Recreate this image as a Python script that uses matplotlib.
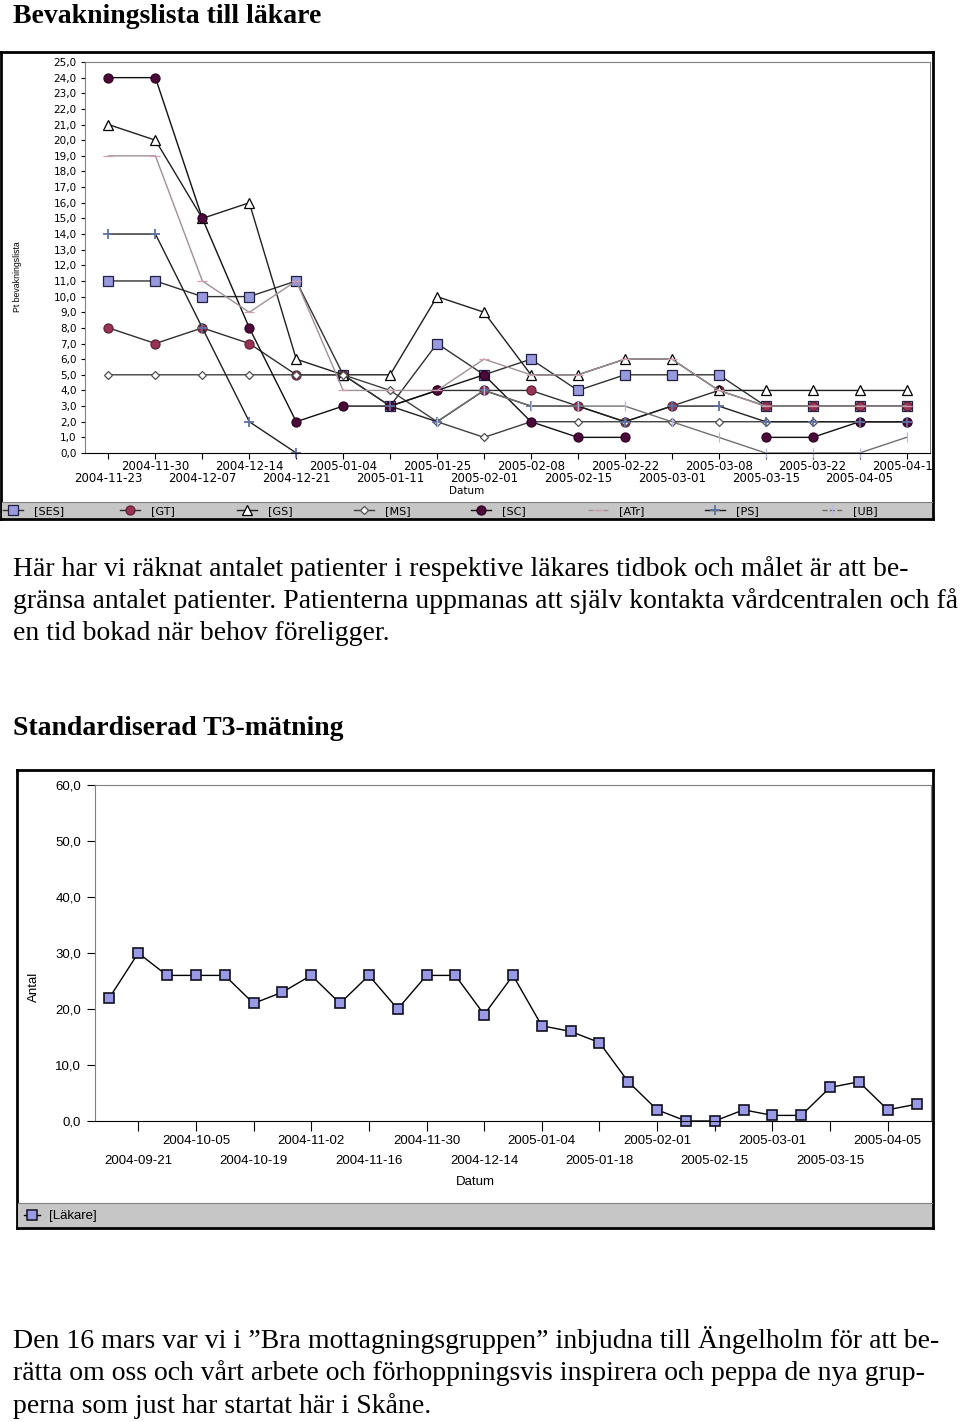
import numpy as np
import matplotlib
matplotlib.use('Agg')
import matplotlib.pyplot as plt

W, H = 960, 1422

# --- chart 1: Bevakningslista till läkare ---
dates1 = ['2004-11-23', '2004-11-30', '2004-12-07', '2004-12-14', '2004-12-21',
          '2005-01-04', '2005-01-11', '2005-01-25', '2005-02-01', '2005-02-08',
          '2005-02-15', '2005-02-22', '2005-03-01', '2005-03-08', '2005-03-15',
          '2005-03-22', '2005-04-05', '2005-04-12']
nan = np.nan
ses = [11, 11, 10, 10, 11, 5, 3, 7, 5, 6, 4, 5, 5, 5, 3, 3, 3, 3]
gt = [8, 7, 8, 7, 5, 5, 3, 4, 4, 4, 3, 2, 3, 4, 3, 3, 3, 3]
gs = [21, 20, 15, 16, 6, 5, 5, 10, 9, 5, 5, 6, 6, 4, 4, 4, 4, 4]
ms = [5, 5, 5, 5, 5, 5, 4, 2, 1, 2, 2, 2, 2, 2, 2, 2, 2, 2]
sc = [24, 24, 15, 8, 2, 3, 3, 4, 5, 2, 1, 1, nan, nan, 1, 1, 2, 2]
atr = [19, 19, 11, 9, 11, 4, 4, 4, 6, 5, 5, 6, 6, 4, 3, 3, 3, 3]
ps = [14, 14, 8, 2, 0, nan, 3, 2, 4, 3, 3, 2, 3, 3, 2, 2, 2, 2]
ub = [nan, nan, nan, nan, nan, nan, nan, 2, 4, 3, 3, 3, 2, 1, 0, 0, 0, 1]
names1 = ['[SES]', '[GT]', '[GS]', '[MS]', '[SC]', '[ATr]', '[PS]', '[UB]']

# --- chart 2: Standardiserad T3-mätning ---
dates2 = ['2004-09-14', '2004-09-21', '2004-09-28', '2004-10-05', '2004-10-12',
          '2004-10-19', '2004-10-26', '2004-11-02', '2004-11-09', '2004-11-16',
          '2004-11-23', '2004-11-30', '2004-12-07', '2004-12-14', '2004-12-21',
          '2005-01-04', '2005-01-11', '2005-01-18', '2005-01-25', '2005-02-01',
          '2005-02-08', '2005-02-15', '2005-02-22', '2005-03-01', '2005-03-08',
          '2005-03-15', '2005-03-22', '2005-04-05', '2005-04-12']
lakare = [22, 30, 26, 26, 26, 21, 23, 26, 21, 26, 20, 26, 26, 19, 26,
          17, 16, 14, 7, 2, 0, 0, 2, 1, 1, 6, 7, 2, 3]


def px(x0, y0, x1, y1):
    return [x0 / W, 1 - y1 / H, (x1 - x0) / W, (y1 - y0) / H]


fig = plt.figure(figsize=(W / 100, H / 100), dpi=100)
serif = 'Liberation Serif'
fs = 20

# page text
fig.text(13 / W, 1 - 23 / H, 'Bevakningslista till läkare', family=serif,
         weight='bold', fontsize=fs, va='baseline')
para1 = ['Här har vi räknat antalet patienter i respektive läkares tidbok och målet är att be-',
         'gränsa antalet patienter. Patienterna uppmanas att själv kontakta vårdcentralen och få',
         'en tid bokad när behov föreligger.']
for i, line in enumerate(para1):
    fig.text(13 / W, 1 - (576 + 32 * i) / H, line, family=serif, fontsize=fs, va='baseline')
fig.text(13 / W, 1 - 735 / H, 'Standardiserad T3-mätning', family=serif,
         weight='bold', fontsize=fs, va='baseline')
para2 = ['Den 16 mars var vi i \u201dBra mottagningsgruppen\u201d inbjudna till Ängelholm för att be-',
         'rätta om oss och vårt arbete och förhoppningsvis inspirera och peppa de nya grup-',
         'perna som just har startat här i Skåne.']
for i, line in enumerate(para2):
    fig.text(13 / W, 1 - (1348 + 32.5 * i) / H, line, family=serif, fontsize=fs, va='baseline')


def frame(box, strip):
    fr = fig.add_axes(px(*box))
    fr.set_xticks([]); fr.set_yticks([])
    for s in fr.spines.values():
        s.set_linewidth(2); s.set_color('black')
    lg = fig.add_axes(px(*strip))
    lg.set_facecolor('#c6c6c6')
    lg.set_xticks([]); lg.set_yticks([])
    for s in lg.spines.values():
        s.set_visible(False)
    lg.spines['top'].set_visible(True); lg.spines['top'].set_color('#808080')
    lg.set_xlim(strip[0], strip[2]); lg.set_ylim(0, 1)
    return fr, lg


# ---------------- chart 1 ----------------
fr1, lg1 = frame((1, 52, 933, 519), (2, 502, 932, 518))
ax1 = fig.add_axes(px(85, 62, 930, 453))
x1 = np.arange(len(dates1))

styles = [
    dict(marker='s', mfc='#9999dd', mec='#202040', color='#303030', ls='-'),
    dict(marker='o', mfc='#993355', mec='#602030', color='#303030', ls='-'),
    dict(marker='^', mfc='white', mec='black', color='#202020', ls='-'),
    dict(marker='D', mfc='white', mec='#505050', color='#404040', ls='-', ms=4.5),
    dict(marker='o', mfc='#4a0a3a', mec='#300020', color='#101010', ls='-'),
    dict(marker='_', mfc='#d0a0b0', mec='#d0a0b0', color='#a09098', ls='-'),
    dict(marker='+', mfc='#6070a0', mec='#6070a0', color='#202020', ls='-', mew=1.3),
    dict(marker='|', mfc='#b8b8e0', mec='#b8b8e0', color='#707070', ls='-'),
]
series1 = [ses, gt, gs, ms, sc, atr, ps, ub]
for vals, st in zip(series1, styles):
    st = dict(st)
    msz = st.pop('ms', 6.5)
    mew = st.pop('mew', 0.9)
    ax1.plot(x1, vals, lw=1.0, ms=msz, mew=mew, clip_on=False, **st)

ax1.set_xlim(-0.5, 17.5)
ax1.set_ylim(0, 25)
ax1.set_yticks(np.arange(0, 26))
ax1.set_yticklabels([f'{v},0' for v in range(26)], family='DejaVu Sans', fontsize=7.5)
ax1.set_xticks(x1[1::2])
ax1.set_xticklabels(dates1[1::2], family='DejaVu Sans', fontsize=8.5)
ax1.set_xticks(x1[0::2], minor=True)
ax1.set_xticklabels(dates1[0::2], minor=True, family='DejaVu Sans', fontsize=8.5)
ax1.tick_params(axis='y', length=3, pad=3, width=0.8)
ax1.tick_params(axis='x', which='both', length=4, width=0.8)
ax1.tick_params(axis='x', which='major', pad=1.0)
ax1.tick_params(axis='x', which='minor', pad=9.5)
for name in ['left', 'top', 'right']:
    ax1.spines[name].set_color('#808080')
ax1.spines['bottom'].set_color('black')
ax1.set_xlabel('Datum', family='DejaVu Sans', fontsize=7.5)
ax1.xaxis.set_label_coords(0.452, -0.085)
ax1.set_ylabel('Pt bevakningslista', family='Liberation Sans', fontsize=6.3)
ax1.yaxis.set_label_coords(-0.074, 0.45)

# legend strip 1
for k, (name, st) in enumerate(zip(names1, styles)):
    st = dict(st)
    msz = st.pop('ms', 6.5)
    mew = st.pop('mew', 0.9)
    cx = 13 + 117 * k
    dashed = name in ('[ATr]', '[UB]')
    lg1.plot([cx - 10, cx + 10], [0.5, 0.5], lw=1.0, color=st['color'],
             ls='--' if dashed else '-')
    lg1.plot([cx], [0.5], ls='none', marker=st['marker'], mfc=st['mfc'],
             mec=st['mec'], ms=msz, mew=mew)
    lg1.text(cx + 21, 0.45, name, family='DejaVu Sans', fontsize=8, va='center')

# ---------------- chart 2 ----------------
fr2, lg2 = frame((17, 770, 933, 1228), (18, 1203, 932, 1227))
ax2 = fig.add_axes(px(95, 785, 931, 1121))
x2 = np.arange(len(dates2))
ax2.plot(x2, lakare, color='black', lw=1.0, marker='s', ms=7, mfc='#9999e6',
         mec='#101020', mew=1.2, clip_on=False)
ax2.set_xlim(-0.5, 28.5)
ax2.set_ylim(0, 60)
ax2.set_yticks(np.arange(0, 61, 10))
ax2.set_yticklabels([f'{v},0' for v in range(0, 61, 10)], family='Liberation Sans', fontsize=9.5)
odd = x2[1::2]
ax2.set_xticks(odd[1::2])
ax2.set_xticklabels([dates2[i] for i in odd[1::2]], family='Liberation Sans', fontsize=9.5)
ax2.set_xticks(odd[0::2], minor=True)
ax2.set_xticklabels([dates2[i] for i in odd[0::2]], minor=True, family='Liberation Sans', fontsize=9.5)
ax2.tick_params(axis='y', length=6, pad=4, width=0.8)
ax2.tick_params(axis='x', which='both', length=7, width=0.8)
ax2.tick_params(axis='x', which='major', pad=3)
ax2.tick_params(axis='x', which='minor', pad=17.5)
for name in ['left', 'top', 'right']:
    ax2.spines[name].set_color('#808080')
ax2.spines['bottom'].set_color('black')
ax2.set_xlabel('Datum', family='Liberation Sans', fontsize=9.5)
ax2.xaxis.set_label_coords(0.455, -0.165)
ax2.set_ylabel('Antal', family='Liberation Sans', fontsize=9.5)
ax2.yaxis.set_label_coords(-0.066, 0.40)

lg2.plot([24, 40], [0.5, 0.5], color='black', lw=1.0)
lg2.plot([32], [0.5], ls='none', marker='s', ms=6.5, mfc='#9999e6', mec='#101020', mew=1.1)
lg2.text(49, 0.47, '[Läkare]', family='Liberation Sans', fontsize=9.5, va='center')

# the last date label of chart 1 is cut off by the chart frame
fig.canvas.draw()
last = ax1.xaxis.get_major_ticks()[-1].label1
last.set_clip_on(True)
last.set_clip_box(fr1.bbox)

fig.savefig('out.png', dpi=100)
